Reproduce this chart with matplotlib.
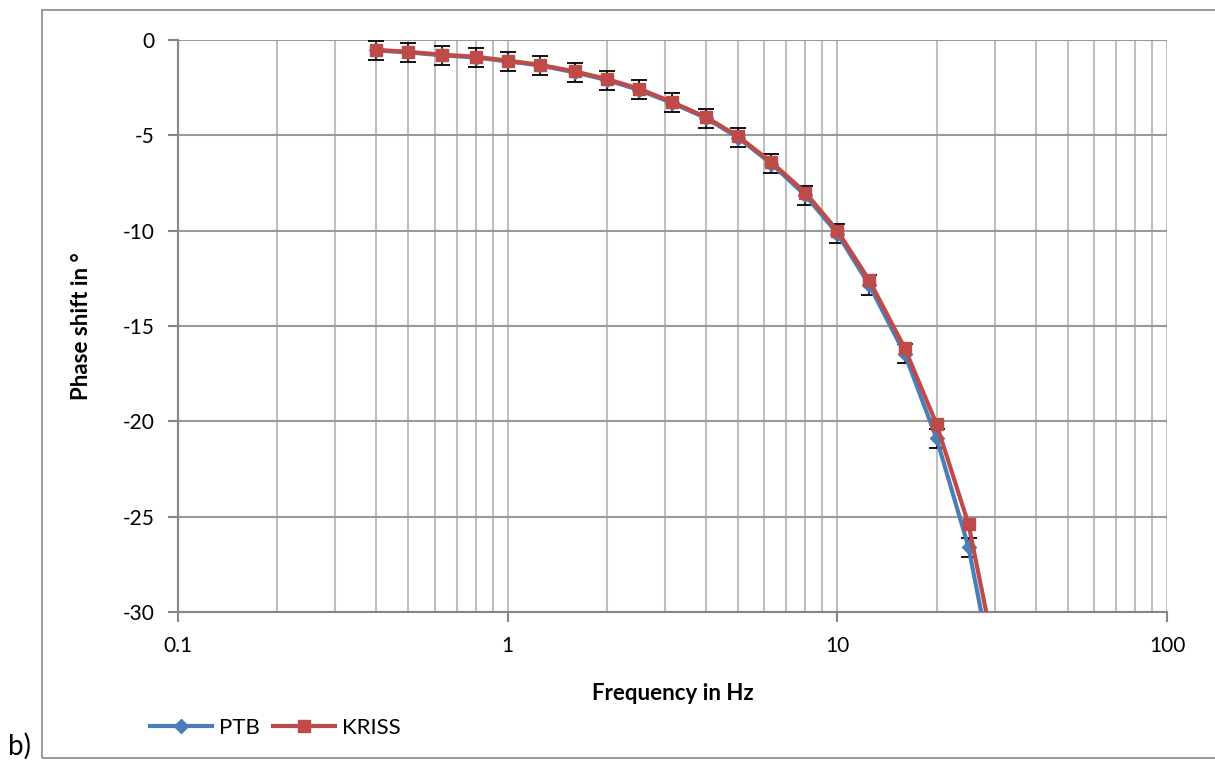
import matplotlib.pyplot as plt
import matplotlib.ticker as mticker
from matplotlib.patches import Rectangle

plt.rcParams['font.family'] = ['Lato', 'DejaVu Sans']
plt.rcParams['axes.unicode_minus'] = False

freq = [0.4, 0.5, 0.63, 0.8, 1, 1.25, 1.6, 2, 2.5, 3.15, 4, 5, 6.3, 8, 10,
        12.5, 16, 20, 25, 31.5]
ptb = [-0.55, -0.65, -0.8, -0.92, -1.12, -1.33, -1.7, -2.1, -2.62, -3.3,
       -4.1, -5.12, -6.48, -8.15, -10.15, -12.85, -16.45, -20.9, -26.6, -35.5]
ptb_err = [0.5] * len(freq)
kriss = [-0.52, -0.62, -0.77, -0.88, -1.08, -1.3, -1.65, -2.05, -2.55, -3.25,
         -4.05, -5.05, -6.4, -8.0, -10.0, -12.6, -16.15, -20.15, -25.4, -34.0]

fig = plt.figure(figsize=(12.15, 7.65), dpi=100)
ax = fig.add_axes([178 / 1215, 1 - 612 / 765, (1167 - 178) / 1215, (612 - 40) / 765])

# outer chart border
fig.patches.append(Rectangle((42 / 1215, 1 - 758 / 765), 1.2, 748 / 765,
                             transform=fig.transFigure, fill=False,
                             edgecolor='#888888', linewidth=1.2))

ax.errorbar(freq, ptb, yerr=ptb_err, fmt='none', ecolor='black',
            elinewidth=1.3, capsize=6, capthick=1.3, zorder=2)
ax.plot(freq, ptb, color='#4a7ebb', lw=3, marker='D', ms=7, label='PTB', zorder=3)
ax.plot(freq, kriss, color='#be4b48', lw=3, marker='s', ms=9, label='KRISS', zorder=4)

ax.set_xscale('log')
ax.set_xlim(0.1, 100)
ax.set_ylim(-30, 0)
ax.set_yticks(range(-30, 1, 5))
ax.xaxis.set_major_formatter(mticker.FuncFormatter(lambda v, p: '%g' % v))
ax.xaxis.set_minor_formatter(mticker.NullFormatter())
ax.xaxis.set_minor_locator(mticker.LogLocator(base=10, subs=range(2, 10)))

ax.grid(True, axis='x', which='both', color='#bfbfbf', lw=1.5)
ax.grid(True, axis='y', which='major', color='#9a9a9a', lw=1.5)
ax.set_axisbelow(True)

for s in ['top', 'right']:
    ax.spines[s].set_visible(False)
for s in ['left', 'bottom']:
    ax.spines[s].set_color('#868686')
    ax.spines[s].set_linewidth(1.5)
ax.tick_params(axis='both', which='major', color='#868686', width=1.5, length=7,
               labelsize=15, pad=10)
ax.tick_params(axis='x', which='minor', length=0)

ax.set_xlabel('Frequency in Hz', fontsize=16, fontweight='bold', labelpad=20)
ax.set_ylabel('Phase shift in °', fontsize=16, fontweight='bold', labelpad=22)

ax.legend(loc='upper left', bbox_to_anchor=(130 / 1215, 1 - 698 / 765),
          bbox_transform=fig.transFigure, ncol=2, frameon=False, fontsize=16,
          handlelength=2.8, columnspacing=0.6, handletextpad=0.3)

fig.text(8 / 1215, 1 - 746 / 765, 'b)', fontsize=20, va='center', ha='left')

fig.savefig('out.png', dpi=100)
